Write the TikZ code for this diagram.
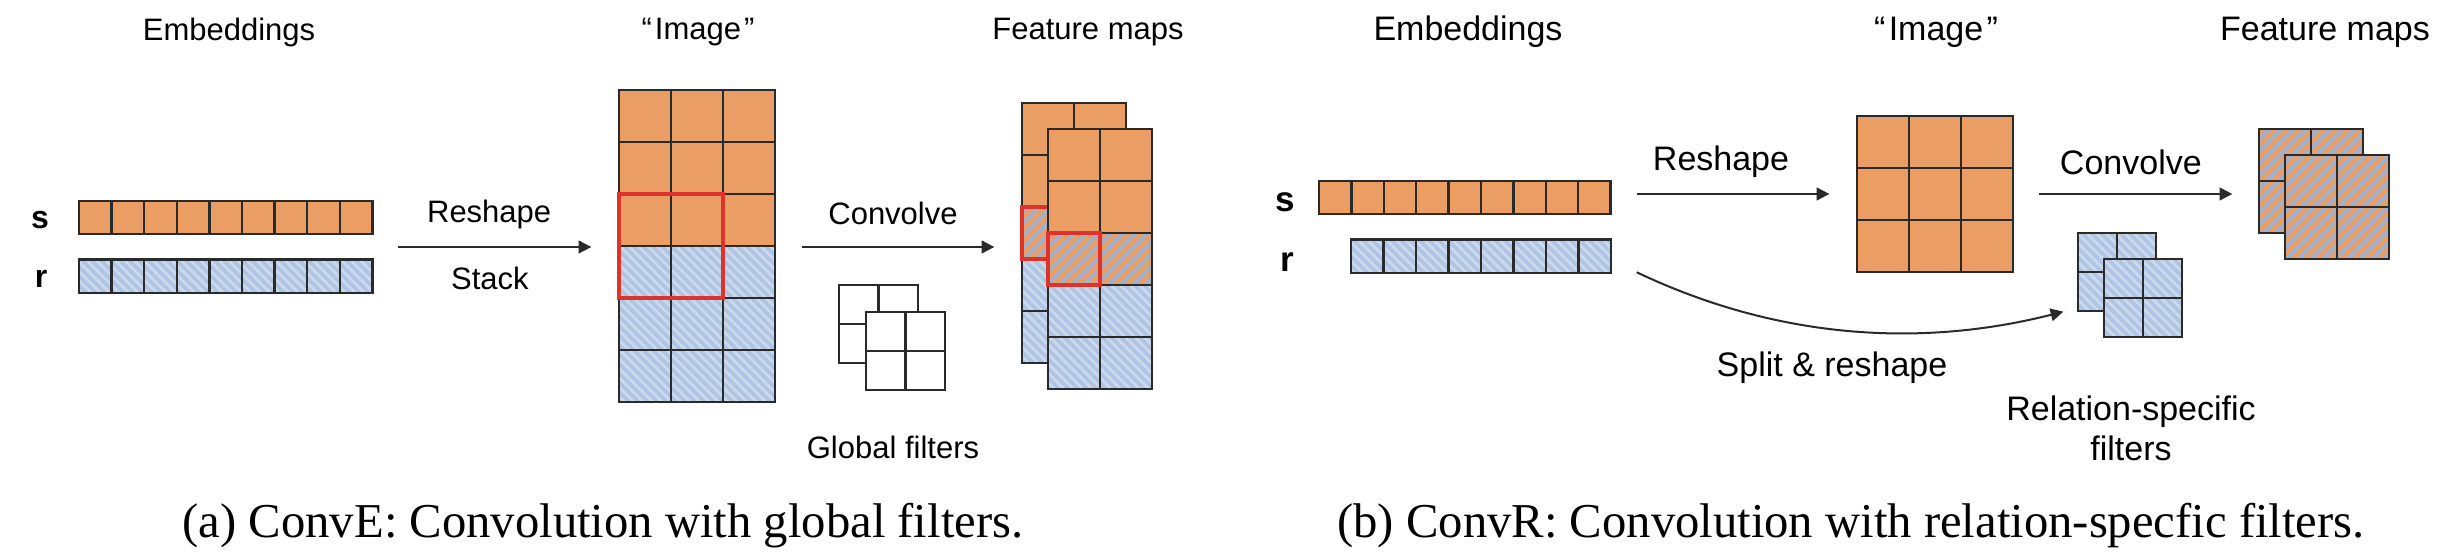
\documentclass[tikz,border=0pt]{standalone}
\usepackage{fontspec}
\setmainfont{Liberation Serif}
\setsansfont{Liberation Sans}
\usetikzlibrary{arrows.meta,patterns.meta,calc,fit}

\definecolor{orangeC}{HTML}{EA9E63}
\definecolor{blueBase}{HTML}{AFC5E3}
\definecolor{blueStripe}{HTML}{CCDAEE}
\definecolor{mixStripe}{HTML}{9FB1CF}
\definecolor{lineC}{HTML}{2A2A2A}
\definecolor{redC}{HTML}{E0322D}

\tikzset{
  cellline/.style={draw=lineC, line width=0.7pt},
  orangecell/.style={cellline, fill=orangeC},
  bluecell/.style={cellline, preaction={fill=blueBase},
    pattern={Lines[angle=-45,distance=2pt,line width=0.8pt]}, pattern color=blueStripe},
  mixcell/.style={cellline, preaction={fill=orangeC},
    pattern={Lines[angle=45,distance=2.6pt,line width=1.2pt]}, pattern color=mixStripe},
  whitecell/.style={cellline, fill=white},
  redbox/.style={draw=redC, line width=1.2pt},
  arr/.style={draw=lineC, line width=0.6pt, -{Triangle[length=3.8pt,width=3.8pt]}},
  lblA/.style={font=\sffamily\fontsize{9.3}{11}\selectfont, inner sep=0},
  lblB/.style={font=\sffamily\fontsize{10.2}{12}\selectfont, inner sep=0},
  vecA/.style={font=\sffamily\bfseries\fontsize{9.6}{11}\selectfont, inner sep=0},
  vecB/.style={font=\sffamily\bfseries\fontsize{10.5}{12}\selectfont, inner sep=0},
  captxt/.style={font=\fontsize{14.6}{17}\selectfont, inner sep=0},
  block/.style={inner sep=0, draw=none},
}

% x0, y0, number of cells, cell width, cell height, style
\newcommand\cellrow[6]{\foreach \ci in {1,...,#3}{\path[#6] ({#1+(\ci-1)*#4},{#2}) rectangle +(#4,#5);}}

\begin{document}
\begin{tikzpicture}[x=0.3pt,y=-0.3pt]
\useasboundingbox (0,0) rectangle (2450,560);

%%%%%%%%%%%%%%%% Panel (a) %%%%%%%%%%%%%%%%
\node[lblA] (embTitleA) at (229,32) {Embeddings};
\node[lblA] (imgTitleA) at (698,32) {“\kern0.1em Image\kern0.1em ”};
\node[lblA] (fmTitleA) at (1088,32) {Feature maps};

\node[vecA] (sLblA) at (40,220) {s};
\node[vecA] (rLblA) at (41,279) {r};
\cellrow{79}{201}{9}{32.6}{33}{orangecell}
\cellrow{79}{259.5}{9}{32.6}{33.5}{bluecell}
\node[block, fit={(79,201) (372,293)}] (embA) {};

% image
\cellrow{619}{90}{3}{52}{52}{orangecell}
\cellrow{619}{142}{3}{52}{52}{orangecell}
\cellrow{619}{194}{3}{52}{52}{orangecell}
\cellrow{619}{246}{3}{52}{52}{bluecell}
\cellrow{619}{298}{3}{52}{52}{bluecell}
\cellrow{619}{350}{3}{52}{52}{bluecell}
\draw[redbox] (619,194) rectangle (723,298);
\node[block, fit={(619,90) (775,402)}] (imgA) {};

% global filters
\cellrow{839}{285}{2}{39.5}{39}{whitecell}
\cellrow{839}{324}{2}{39.5}{39}{whitecell}
\cellrow{866}{312}{2}{39.5}{39}{whitecell}
\cellrow{866}{351}{2}{39.5}{39}{whitecell}
\node[block, fit={(839,285) (945,390)}] (filtA) {};
\node[lblA] (gfA) at (893,447) {Global filters};

% feature maps (back)
\cellrow{1022}{103}{2}{52}{52}{orangecell}
\cellrow{1022}{155}{2}{52}{52}{orangecell}
\cellrow{1022}{207}{2}{52}{52}{mixcell}
\cellrow{1022}{259}{2}{52}{52}{bluecell}
\cellrow{1022}{311}{2}{52}{52}{bluecell}
\draw[redbox] (1022,207) rectangle (1074,259);
% feature maps (front)
\cellrow{1048}{129}{2}{52}{52}{orangecell}
\cellrow{1048}{181}{2}{52}{52}{orangecell}
\cellrow{1048}{233}{2}{52}{52}{mixcell}
\cellrow{1048}{285}{2}{52}{52}{bluecell}
\cellrow{1048}{337}{2}{52}{52}{bluecell}
\draw[redbox] (1048,233) rectangle (1100,285);
\node[block, fit={(1022,103) (1152,389)}] (fmA) {};

\draw[arr] ($(embA.east)+(25,0)$) -- ($(embA.east -| imgA.west)+(-27,0)$)
  node[lblA, midway, yshift=9.9pt, xshift=-1.6pt] (reshapeA) {Reshape}
  node[lblA, midway, yshift=-9.3pt, xshift=-1.4pt] (stackA) {Stack};
\draw[arr] ($(imgA.east |- embA.east)+(26,0)$) -- ($(embA.east -| fmA.west)+(-27,0)$)
  node[lblA, midway, yshift=10.2pt, xshift=-1.5pt] (convA) {Convolve};

\node[captxt, anchor=base] (capA) at (603,538) {(a) ConvE: Convolution with global filters.};

%%%%%%%%%%%%%%%% Panel (b) %%%%%%%%%%%%%%%%
\node[lblB] (embTitleB) at (1468,32) {Embeddings};
\node[lblB] (imgTitleB) at (1936,32) {“\kern0.1em Image\kern0.1em ”};
\node[lblB] (fmTitleB) at (2325,32) {Feature maps};

\node[vecB] (sLblB) at (1285,202) {s};
\node[vecB] (rLblB) at (1287,262) {r};
\cellrow{1319}{181}{9}{32.4}{33}{orangecell}
\cellrow{1351}{239.5}{8}{32.5}{33.5}{bluecell}
\node[block, fit={(1319,181) (1611,214)}] (sB) {};
\node[block, fit={(1351,239.5) (1611,273)}] (rB) {};

% image
\cellrow{1857}{116}{3}{52}{52}{orangecell}
\cellrow{1857}{168}{3}{52}{52}{orangecell}
\cellrow{1857}{220}{3}{52}{52}{orangecell}
\node[block, fit={(1857,116) (2013,272)}] (imgB) {};

% relation-specific filters
\cellrow{2078}{233}{2}{39}{39}{bluecell}
\cellrow{2078}{272}{2}{39}{39}{bluecell}
\cellrow{2104}{259}{2}{39}{39}{bluecell}
\cellrow{2104}{298}{2}{39}{39}{bluecell}
\node[block, fit={(2078,233) (2182,337)}] (rfB) {};
\node[lblB, align=center] (rfLbl) at (2131,428) {Relation-specific\\filters};

% feature maps
\cellrow{2259}{129}{2}{52}{52}{mixcell}
\cellrow{2259}{181}{2}{52}{52}{mixcell}
\cellrow{2285}{155}{2}{52}{52}{mixcell}
\cellrow{2285}{207}{2}{52}{52}{mixcell}
\node[block, fit={(2259,129) (2389,259)}] (fmB) {};

\draw[arr] ($(sB.east |- imgB.west)+(25,0)$) -- ($(imgB.west)+(-27,0)$)
  node[lblB, midway, yshift=9.6pt, xshift=-3.6pt] (reshapeB) {Reshape};
\draw[arr] ($(imgB.east)+(25,0)$) -- ($(imgB.east -| fmB.west)+(-26,0)$)
  node[lblB, midway, yshift=9.6pt, xshift=-1.4pt] (convB) {Convolve};
\draw[arr] ($(rB.east)+(25,16)$) .. controls +(164,78) and +(-114,29) .. ($(rfB.south west)+(-14,-26)$);
\node[lblB] (splitB) at (1832,368) {Split \& reshape};

\node[captxt, anchor=base] (capB) at (1851,538) {(b) ConvR: Convolution with relation-specfic filters.};
\end{tikzpicture}
\end{document}
